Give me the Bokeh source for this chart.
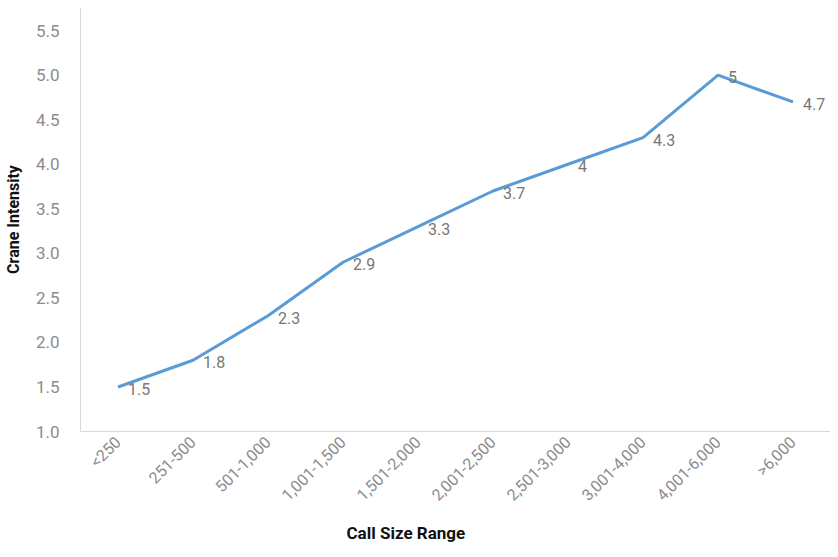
from bokeh.plotting import figure
from bokeh.models import ColumnDataSource, Title, FixedTicker, NumeralTickFormatter, Range1d
from bokeh.core.properties import value
from bokeh.embed import file_html
from bokeh.resources import INLINE
import math

categories = ["<250", "251-500", "501-1,000", "1,001-1,500", "1,501-2,000",
              "2,001-2,500", "2,501-3,000", "3,001-4,000", "4,001-6,000", ">6,000"]
intensity = [1.5, 1.8, 2.3, 2.9, 3.3, 3.7, 4.0, 4.3, 5.0, 4.7]
y_ticks = [1.0, 1.5, 2.0, 2.5, 3.0, 3.5, 4.0, 4.5, 5.0, 5.5]
labels = [f"{v:g}" for v in intensity]

FONT = "Roboto"

p = figure(x_range=categories, y_range=Range1d(1.0, 5.76),
           width=830, height=549, output_backend="svg", toolbar_location=None,
           min_border_left=0, min_border_right=0, min_border_top=7, min_border_bottom=0)
p.outline_line_color = None
p.xgrid.grid_line_color = None
p.ygrid.grid_line_color = None
p.background_fill_color = "white"
p.border_fill_color = "white"

src = ColumnDataSource(dict(x=categories, y=intensity, t=labels))
p.line("x", "y", source=src, line_color="#5B9BD5", line_width=3)
p.text("x", "y", text="t", source=src, x_offset=10, y_offset=2,
       text_align="left", text_baseline="middle", text_font=value(FONT),
       text_font_size="16px", text_color="#777777")

for ax in (p.xaxis[0], p.yaxis[0]):
    ax.axis_line_color = "#d9d9d9"
    ax.axis_line_width = 1
    ax.major_tick_line_color = None
    ax.minor_tick_line_color = None
    ax.major_label_text_font = FONT
    ax.major_label_text_color = "#8c8c8c"

p.yaxis.ticker = FixedTicker(ticks=y_ticks)
p.yaxis.formatter = NumeralTickFormatter(format="0.0")
p.yaxis.major_label_text_font_size = "17px"
p.yaxis.major_label_standoff = 15
p.yaxis.axis_label = "Crane Intensity"
p.yaxis.axis_label_text_font = FONT
p.yaxis.axis_label_text_font_style = "bold"
p.yaxis.axis_label_text_font_size = "16px"
p.yaxis.axis_label_text_color = "#111111"
p.yaxis.axis_label_standoff = 10

p.xaxis.major_label_orientation = math.pi / 4
p.xaxis.major_label_text_font_size = "16px"
p.xaxis.major_label_standoff = 2

t = Title(text="Call Size Range", align="left", offset=266, text_font=FONT,
          text_font_style="bold", text_font_size="17px", text_color="#111111",
          standoff=13)
p.add_layout(t, "below")

open("out.html", "w").write(file_html(p, INLINE))
